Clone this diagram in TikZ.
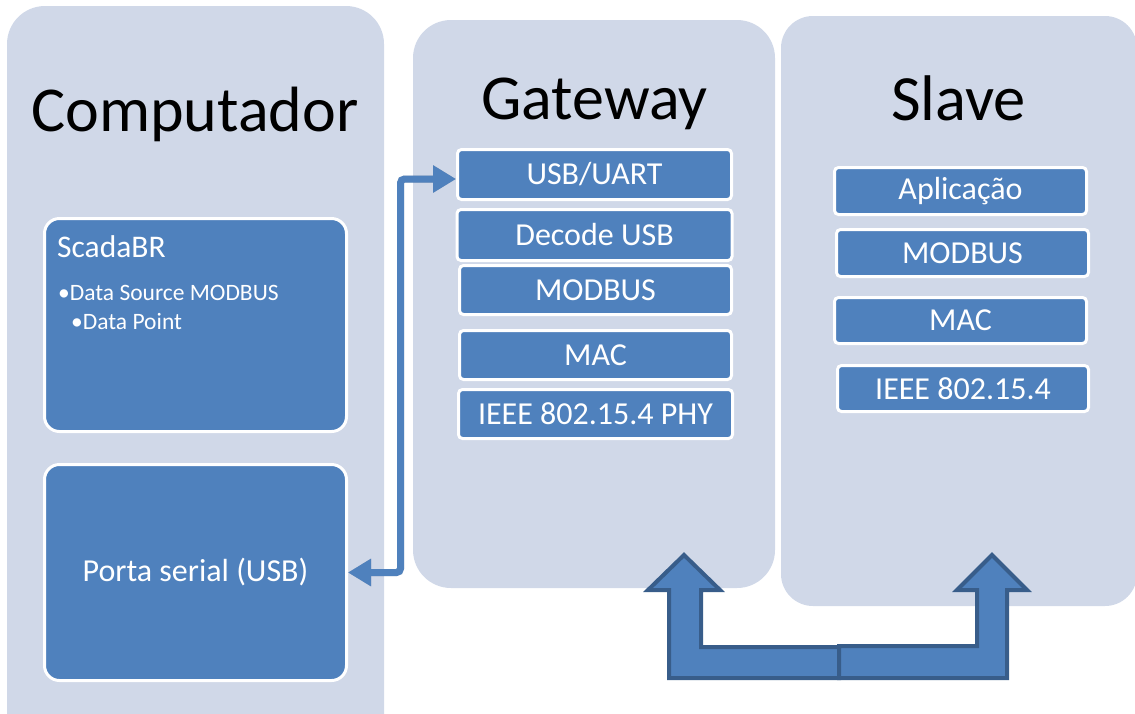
\documentclass[tikz,border=0pt]{standalone}
\usepackage{fontspec}
\setmainfont{Carlito}
\usetikzlibrary{arrows.meta}
\definecolor{panelc}{RGB}{208,216,232}
\definecolor{boxc}{RGB}{79,129,189}
\definecolor{edgec}{RGB}{56,93,138}
\tikzset{
  panel/.style={fill=panelc, draw=none, rounded corners=38pt, inner sep=0pt},
  title/.style={anchor=base, inner sep=0pt, font=\fontsize{64}{64}\selectfont},
  layer/.style={fill=boxc, draw=white, line width=3pt, rounded corners=4pt,
    text=white, inner sep=0pt, font=\fontsize{32}{32}\selectfont},
  bigbox/.style={layer, rounded corners=15pt},
  note/.style={anchor=base west, inner sep=0pt, text=white},
  link/.style={draw=boxc, line width=7pt, rounded corners=4pt,
    {Triangle[length=23pt,width=26pt]}-{Triangle[length=23pt,width=26pt]}},
  linkshadow/.style={draw=black, opacity=0.18, line width=7pt, rounded corners=4pt,
    {Triangle[length=23pt,width=26pt]}-{Triangle[length=23pt,width=26pt]}},
  blockarrow/.style={fill=boxc, draw=edgec, line width=4pt, line join=miter},
}
\begin{document}
\begin{tikzpicture}[x=1pt, y=-1pt]
\useasboundingbox (0,0) rectangle (1135,713);

% background panels
\node[panel, minimum width=377pt, minimum height=754pt] (comp) at (195.5,383) {};
\node[panel, minimum width=362pt, minimum height=568pt] (gw) at (594,304) {};
\node[panel, rounded corners=32pt, minimum width=356pt, minimum height=590pt] (sl) at (959,311) {};

% panel titles
\node[title] (tcomp) at (195,131) {Computador};
\node[title] (tgw) at (594.5,119) {Gateway};
\node[title, font=\fontsize{64.5}{64.5}\selectfont] (tsl) at (958.5,120) {Slave};

% computer blocks
\node[bigbox, minimum width=302pt, minimum height=213pt] (scada) at (195.5,325) {};
\node[note, font=\fontsize{31.5}{31.5}\selectfont] (scadat) at (57,257) {ScadaBR};
\node[note, font=\fontsize{23.5}{23.5}\selectfont] (src) at (58,300) {•Data Source MODBUS};
\node[note, font=\fontsize{23.5}{23.5}\selectfont] (pt) at (71,329) {•Data Point};
\node[bigbox, minimum width=302pt, minimum height=216pt] (porta) at (195.5,572.5) {Porta serial (USB)};

% gateway stack
\node[layer, minimum width=274pt, minimum height=50pt] (usb) at (594.5,174.5) {USB/UART};
\node[layer, minimum width=275pt, minimum height=51pt] (dec) at (594.5,235) {Decode USB};
\node[layer, minimum width=272pt, minimum height=49pt] (gmod) at (595.5,290) {MODBUS};
\node[layer, minimum width=272pt, minimum height=49pt] (gmac) at (595.5,355) {MAC};
\node[layer, minimum width=274pt, minimum height=49pt] (gphy) at (595.5,414) {IEEE 802.15.4 PHY};

% slave stack
\node[layer, minimum width=252pt, minimum height=47pt] (app) at (960.5,191) {Aplicação};
\node[layer, minimum width=252pt, minimum height=47pt] (smod) at (962.5,253) {MODBUS};
\node[layer, minimum width=252pt, minimum height=46pt] (smac) at (960.5,320.5) {MAC};
\node[layer, minimum width=251pt, minimum height=46pt] (sphy) at (963,388.5) {IEEE 802.15.4};

% serial link between computer and gateway
\coordinate (elbow) at (400.5,0);
\coordinate (usbin) at ([yshift=-4.5pt]usb.west);
\begin{scope}[xshift=2.5pt, yshift=-3pt]
  \draw[linkshadow] (porta.east) -- (porta.east -| elbow) -- (elbow |- usbin) -- (usbin);
\end{scope}
\draw[link] (porta.east) -- (porta.east -| elbow) -- (elbow |- usbin) -- (usbin);

% radio link between gateway and slave
\draw[blockarrow] (839,678) -- (669,678) -- (669,590) -- (648,590) -- (684,555)
  -- (720,590) -- (701,590) -- (701,647) -- (839,647) -- cycle;
\draw[blockarrow] (839,678) -- (1007,678) -- (1007,590) -- (1027,590) -- (992,555)
  -- (957,590) -- (977,590) -- (977,646) -- (839,646) -- cycle;
\end{tikzpicture}
\end{document}
